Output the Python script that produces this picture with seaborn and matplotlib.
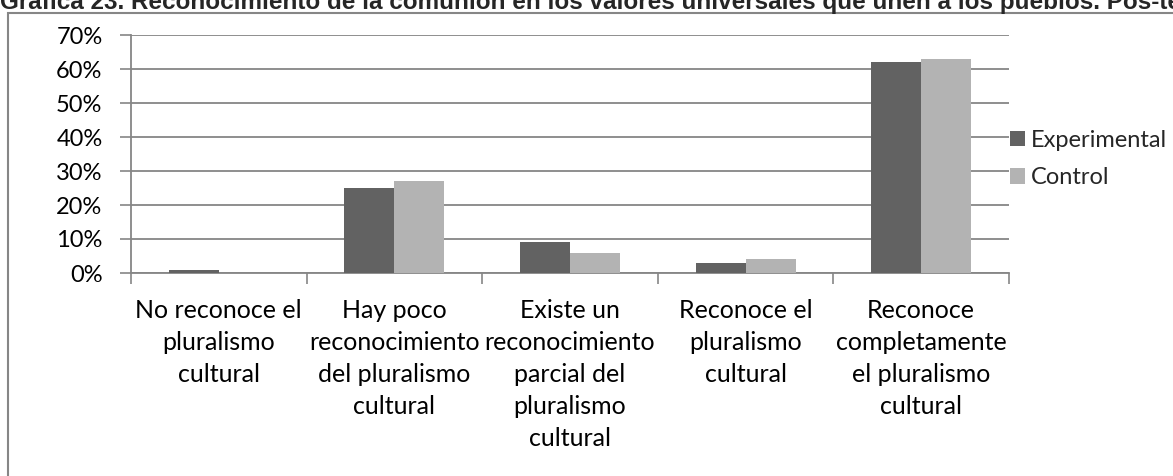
import matplotlib
matplotlib.use("Agg")
import matplotlib.pyplot as plt
import seaborn as sns
import pandas as pd
import numpy as np
from matplotlib.patches import Rectangle
from matplotlib.ticker import FuncFormatter

# ---- data ----
categories = [
    "No reconoce el\npluralismo\ncultural",
    "Hay poco\nreconocimiento\ndel pluralismo\ncultural",
    "Existe un\nreconocimiento\nparcial del\npluralismo\ncultural",
    "Reconoce el\npluralismo\ncultural",
    "Reconoce\ncompletamente\nel pluralismo\ncultural",
]
experimental = [1, 25, 9, 3, 62]
control = [0, 27, 6, 4, 63]
series_names = ["Experimental", "Control"]
y_ticks = [0, 10, 20, 30, 40, 50, 60, 70]
title = ("Gráfica 23. Reconocimiento de la comunión en los valores universales "
         "que unen a los pueblos. Pos-test")

colors = {"Experimental": "#626262", "Control": "#b3b3b3"}
axis_gray = "#868686"

sns.set_theme(style="white")
plt.rcParams['font.family'] = ['Lato', 'DejaVu Sans']

W, H = 1173, 476
fig = plt.figure(figsize=(W / 100, H / 100), dpi=100)
ax = fig.add_axes([131 / W, 1 - 273 / H, (1009 - 131) / W, (273 - 35) / H])

df = pd.DataFrame({
    "categoria": categories * 2,
    "valor": experimental + control,
    "serie": [series_names[0]] * len(categories) + [series_names[1]] * len(categories),
})

sns.barplot(data=df, x="categoria", y="valor", hue="serie", order=categories,
            hue_order=series_names, palette=colors, width=0.57, saturation=1,
            ax=ax, linewidth=0, zorder=3)

ax.set_ylim(0, 70)
ax.set_xlim(-0.5, len(categories) - 0.5)
ax.set_xlabel("")
ax.set_ylabel("")

# y axis
ax.set_yticks(y_ticks)
ax.yaxis.set_major_formatter(FuncFormatter(lambda v, p: f"{v:.0f}%"))
ax.tick_params(axis='y', which='major', length=8, width=1.2, color=axis_gray,
               labelsize=17, pad=12.5, labelcolor='black', left=True)
ax.yaxis.grid(True, color=axis_gray, linewidth=1.3, zorder=0)
ax.set_axisbelow(True)

# x axis: boundary ticks + centered labels
ax.set_xticks(np.arange(-0.5, len(categories), 1.0))
ax.set_xticklabels([""] * (len(categories) + 1))
ax.set_xticks(np.arange(len(categories)), minor=True)
ax.set_xticklabels(categories, minor=True, linespacing=1.47)
ax.tick_params(axis='x', which='major', length=8, width=1.2, color=axis_gray, bottom=True)
ax.tick_params(axis='x', which='minor', length=0, labelsize=18, pad=19, labelcolor='black')

for s in ["top", "right"]:
    ax.spines[s].set_visible(False)
for s in ["left", "bottom"]:
    ax.spines[s].set_color(axis_gray)
    ax.spines[s].set_linewidth(1.3)

# legend
handles, labels = ax.get_legend_handles_labels()
ax.get_legend().remove()
fig.legend(handles, labels, loc="center left",
           bbox_to_anchor=(1010 / W, 1 - 159 / H), frameon=False,
           fontsize=17, handlelength=0.62, handleheight=0.62,
           handletextpad=0.25, labelspacing=0.7, borderpad=0, borderaxespad=0)

# outer chart border (clipped by the picture edges)
fig.add_artist(Rectangle((8 / W, -0.1), 2.0, 1 - 12.5 / H + 0.1,
                         transform=fig.transFigure, fill=False,
                         edgecolor=axis_gray, linewidth=1.5))

# clipped title
fig.text(0.5 / W, 1 - 8.5 / H, title, fontsize=17.5, fontweight='bold',
         family=['Liberation Sans', 'DejaVu Sans'], va='baseline', ha='left')

fig.savefig("out.png", dpi=100)
